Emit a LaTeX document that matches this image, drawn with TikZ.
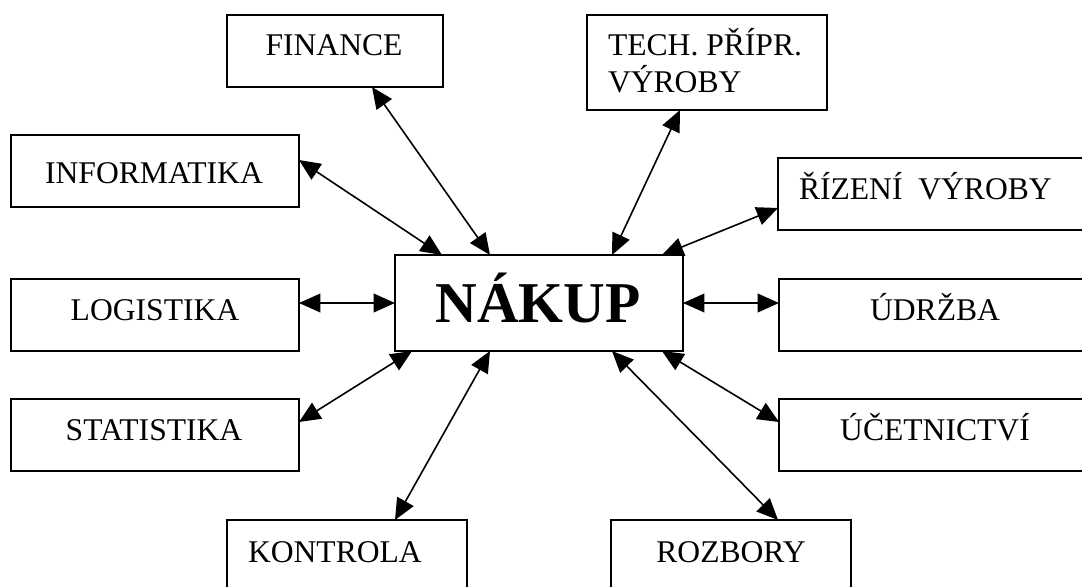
\documentclass[tikz,border=0pt]{standalone}
\usepackage{fontspec}
\setmainfont{Liberation Serif}
\usetikzlibrary{arrows.meta,calc}
\begin{document}
\begin{tikzpicture}[x=0.75pt,y=-0.75pt,
  box/.style={draw,line width=1.5pt,inner sep=0pt,outer sep=0pt,fill=white},
  lbl/.style={inner sep=0pt,outer sep=0pt,font=\fontsize{23.7}{27.75}\selectfont},
  conn/.style={line width=1.2pt,{Triangle[length=16pt,width=14pt]}-{Triangle[length=16pt,width=14pt]}}]
\useasboundingbox (0,0) rectangle (1082,586);
\fill[white] (0,0) rectangle (1082,586);
\clip (0,0) rectangle (1082,586);
% boxes
\node[box,minimum width=162pt,minimum height=54pt] (fin) at (335,51) {};
\node[box,minimum width=180pt,minimum height=71.25pt] (tech) at (707,62.5) {};
\node[box,minimum width=216pt,minimum height=54pt] (info) at (155,171) {};
\node[box,minimum width=234.75pt,minimum height=54pt] (riz) at (934.5,194) {};
\node[box,minimum width=216pt,minimum height=72pt] (nak) at (539,303) {};
\node[box,minimum width=216pt,minimum height=54pt] (log) at (155,315) {};
\node[box,minimum width=234pt,minimum height=54pt] (udr) at (935,315) {};
\node[box,minimum width=216pt,minimum height=54pt] (stat) at (155,435) {};
\node[box,minimum width=234pt,minimum height=54pt] (ucet) at (935,435) {};
\node[box,minimum width=180pt,minimum height=54pt] (kont) at (347,556) {};
\node[box,minimum width=180pt,minimum height=54pt] (rozb) at (731,556) {};
% texts
\node[lbl,anchor=base] (fint) at (334,55) {FINANCE};
\node[lbl,anchor=base west] (techt1) at (608,55) {TECH. PŘÍPR.};
\node[lbl,anchor=base west] (techt2) at (608,92) {VÝROBY};
\node[lbl,anchor=base] (infot) at (154,183) {INFORMATIKA};
\node[lbl,anchor=base west] (rizt) at (799,199) {ŘÍZENÍ\ \ VÝROBY};
\node[inner sep=0pt,outer sep=0pt,anchor=base,font=\fontsize{43.3}{50}\selectfont\bfseries] (nakt) at (538,322) {NÁKUP};
\node[lbl,anchor=base] (logt) at (155,320) {LOGISTIKA};
\node[lbl,anchor=base] (statt) at (154,440) {STATISTIKA};
\node[lbl,anchor=base] (udrt) at (935,320) {ÚDRŽBA};
\node[lbl,anchor=base] (ucett) at (935,440) {ÚČETNICTVÍ};
\node[lbl,anchor=base west] (kontt) at (248,562) {KONTROLA};
\node[lbl,anchor=base] (rozt) at (731,562) {ROZBORY};
% connectors
\draw[conn] ($(info.east)+(0,-11)$) -- ($(nak.north)+(-97,0)$);
\draw[conn] ($(fin.south)+(37,0)$) -- ($(nak.north)+(-49,0)$);
\draw[conn] ($(tech.south)+(-27,0)$) -- ($(nak.north)+(73,0)$);
\draw[conn] ($(riz.west)+(0,14)$) -- ($(nak.north)+(123,0)$);
\draw[conn] ($(log.east)+(0,-12)$) -- (nak.west);
\draw[conn] (nak.east) -- ($(udr.west)+(0,-12)$);
\draw[conn] ($(stat.east)+(0,-13)$) -- ($(nak.south)+(-127,0)$);
\draw[conn] ($(kont.north)+(48,0)$) -- ($(nak.south)+(-49,0)$);
\draw[conn] ($(rozb.north)+(47,0)$) -- ($(nak.south)+(73,0)$);
\draw[conn] ($(ucet.west)+(0,-13)$) -- ($(nak.south)+(123,0)$);
\end{tikzpicture}
\end{document}
